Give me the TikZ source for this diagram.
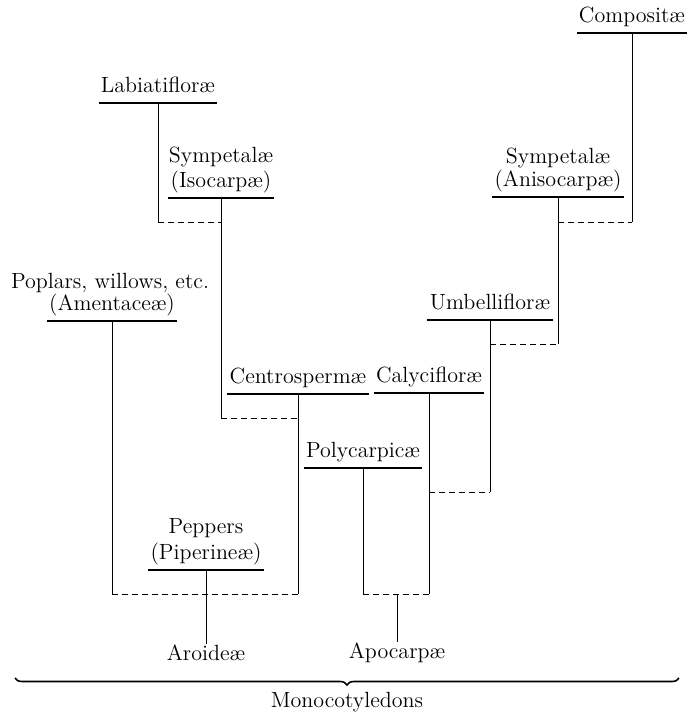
\documentclass[tikz,border=0pt]{standalone}
\usetikzlibrary{decorations.pathreplacing}

\tikzset{
  taxon/.style={inner xsep=1pt, inner ysep=0pt, text depth=5pt, anchor=south,
    font=\fontsize{11}{13}\selectfont},
  plain/.style={inner sep=0pt, anchor=base, font=\fontsize{11}{13}\selectfont},
  uline/.style={line width=0.8pt},
  stem/.style={line width=0.45pt},
  link/.style={line width=0.45pt, dash pattern=on 3pt off 2pt},
  bracket/.style={decorate, decoration={brace, mirror, amplitude=3.5pt}, line width=0.8pt},
}

\begin{document}
\begin{tikzpicture}[x=0.5pt, y=0.5pt]
  \useasboundingbox (0,0) rectangle (688,-718);

  % groups, underlined
  \node[taxon] (comp)  at (632,-33)  {Compositæ};
  \node[taxon] (lab)   at (158,-103) {Labiatifloræ};
  \node[taxon] (iso)   at (221,-198) {(Isocarpæ)};
  \node[taxon] (aniso) at (558,-197) {(Anisocarpæ)};
  \node[taxon] (amen)  at (112,-321) {(Amentaceæ)};
  \node[taxon] (umb)   at (490,-320) {Umbellifloræ};
  \node[taxon] (cen)   at (298,-394) {Centrospermæ};
  \node[taxon] (caly)  at (429,-393) {Calycifloræ};
  \node[taxon] (poly)  at (363,-468) {Polycarpicæ};
  \node[taxon] (pip)   at (206,-570) {(Piperineæ)};

  % upper lines
  \node[plain] (isotop)   at (221,-162) {Sympetalæ};
  \node[plain] (anisotop) at (558,-163) {Sympetalæ};
  \node[plain] (amentop)  at (110,-288) {Poplars, willows, etc.};
  \node[plain] (piptop)   at (206,-533) {Peppers};

  % roots
  \node[plain] (aro)  at (206,-660) {Aroideæ};
  \node[plain] (apo)  at (397,-658) {Apocarpæ};
  \node[plain] (mono) at (347,-707) {Monocotyledons};

  \foreach \n in {comp,lab,iso,aniso,amen,umb,cen,caly,poly,pip}
    \draw[uline] (\n.south west) -- (\n.south east);

  % fork heights
  \coordinate (f1) at (0,-222);
  \coordinate (f2) at (0,-418);
  \coordinate (f3) at (0,-594);
  \coordinate (f4) at (0,-344);
  \coordinate (f5) at (0,-492);

  \draw[stem] (comp.south)  -- (comp.south |- f1);
  \draw[stem] (lab.south)   -- (lab.south |- f1);
  \draw[stem] (iso.south)   -- (iso.south |- f2);
  \draw[stem] (aniso.south) -- (aniso.south |- f4);
  \draw[stem] (umb.south)   -- (umb.south |- f5);
  \draw[stem] (cen.south)   -- (cen.south |- f3);
  \draw[stem] (amen.south)  -- (amen.south |- f3);
  \draw[stem] (caly.south)  -- (caly.south |- f3);
  \draw[stem] (poly.south)  -- (poly.south |- f3);
  \draw[stem] (pip.south)   -- (aro.north);
  \draw[stem] (apo.north |- f3) -- (apo.north);

  \draw[link] (lab.south |- f1)   -- (iso.south |- f1);
  \draw[link] (aniso.south |- f1) -- (comp.south |- f1);
  \draw[link] (iso.south |- f2)   -- (cen.south |- f2);
  \draw[link] (amen.south |- f3)  -- (cen.south |- f3);
  \draw[link] (poly.south |- f3)  -- (caly.south |- f3);
  \draw[link] (umb.south |- f4)   -- (aniso.south |- f4);
  \draw[link] (caly.south |- f5)  -- (umb.south |- f5);

  % brace over the monocotyledons
  \coordinate (bl) at (15,-678);
  \coordinate (br) at (679,-678);
  \draw[bracket] (bl) -- (br);
\end{tikzpicture}
\end{document}
